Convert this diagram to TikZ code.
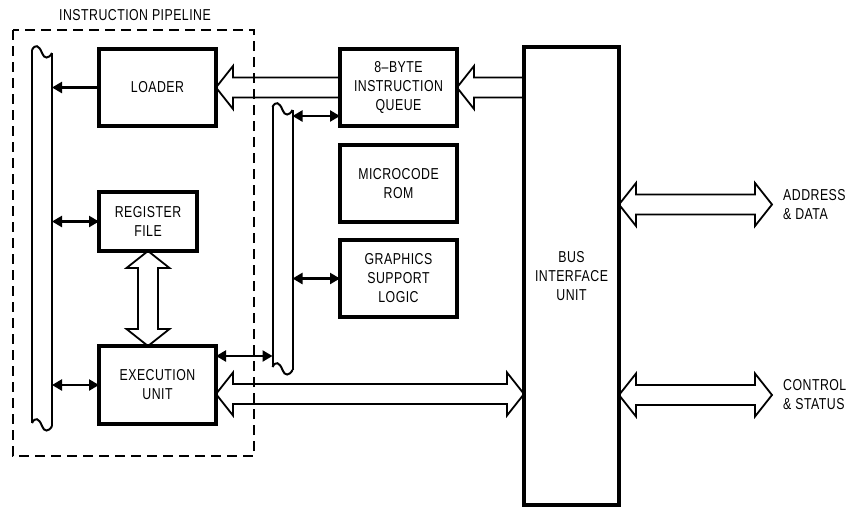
\documentclass[tikz,border=0pt]{standalone}
\usepackage{fontspec}
\setmainfont{Liberation Sans}[FakeStretch=0.78, LetterSpace=3]
\usetikzlibrary{arrows.meta,positioning,calc}

\tikzset{
    buswave/.pic={\draw[line width=2pt] (0,0) .. controls (3,-6) and (7,-5) .. (10,3) .. controls (12,9) and (17,9) .. (20,3);}
}

\begin{document}
\begin{tikzpicture}[
        x=1pt, y=-1pt,
        font=\fontsize{15.8}{19}\selectfont,
        unit/.style={rectangle, draw=black, line width=3.2pt, align=center, inner sep=0pt,
                     outer sep=0pt, minimum width=117pt, minimum height=77pt},
        bus/.style={rectangle, inner sep=0pt, outer sep=0pt, minimum width=20pt},
        busline/.style={line width=2pt},
        pipebox/.style={dash pattern=on 10pt off 6pt, line width=2.6pt},
        arrow/.style={-{Triangle[length=10pt,width=11pt]}, line width=2.3pt},
        biarrow/.style={{Triangle[length=10pt,width=11pt]}-{Triangle[length=10pt,width=11pt]}, line width=2.3pt},
        fat/.style={line width=1.8pt, to path={
            let \p1=(\tikztostart), \p2=(\tikztotarget), \n1={atan2(\y2-\y1,\x2-\x1)},
                \n2={\n1+90}, \n3={\n1-90}, \n4={\n1+180}
            in ($(\p1)+(\n2:10pt)$) -- ($(\p2)+(\n4:17pt)+(\n2:10pt)$) -- ($(\p2)+(\n4:17pt)+(\n2:21.5pt)$)
               -- (\p2) -- ($(\p2)+(\n4:17pt)+(\n3:21.5pt)$) -- ($(\p2)+(\n4:17pt)+(\n3:10pt)$)
               -- ($(\p1)+(\n3:10pt)$)}},
        fatboth/.style={line width=1.8pt, to path={
            let \p1=(\tikztostart), \p2=(\tikztotarget), \n1={atan2(\y2-\y1,\x2-\x1)},
                \n2={\n1+90}, \n3={\n1-90}, \n4={\n1+180}
            in ($(\p1)+(\n1:17pt)+(\n2:10pt)$) -- ($(\p2)+(\n4:17pt)+(\n2:10pt)$) -- ($(\p2)+(\n4:17pt)+(\n2:21.5pt)$)
               -- (\p2) -- ($(\p2)+(\n4:17pt)+(\n3:21.5pt)$) -- ($(\p2)+(\n4:17pt)+(\n3:10pt)$)
               -- ($(\p1)+(\n1:17pt)+(\n3:10pt)$) -- ($(\p1)+(\n1:17pt)+(\n3:21.5pt)$)
               -- (\p1) -- ($(\p1)+(\n1:17pt)+(\n2:21.5pt)$) -- cycle}}
    ]
        \useasboundingbox (0,0) rectangle (853,506);

        % instruction pipeline
        \draw[pipebox] (13,30) rectangle (254,456);
        \node (pipetitle) at (135,15) {INSTRUCTION PIPELINE};

        \node[unit] (loader) at (157.5,87.5) {LOADER};
        \node[unit, minimum width=98pt, minimum height=59pt] (reg) at (148,221.5) {REGISTER\\FILE};
        \node[unit, minimum height=78pt] (exec) at (157.5,385) {EXECUTION\\UNIT};

        \node[unit] (queue) at (398.5,87.5) {8--BYTE\\INSTRUCTION\\QUEUE};
        \node[unit, below=19pt of queue] (rom) {MICROCODE\\ROM};
        \node[unit, below=18pt of rom] (gfx) {GRAPHICS\\SUPPORT\\LOGIC};

        \node[unit, minimum width=95pt, minimum height=458pt] (biu) at (571.5,276) {BUS\\INTERFACE\\UNIT};

        \node[anchor=west, align=left, inner sep=0pt] (addrtext) at (783,204.5) {ADDRESS\\\& DATA};
        \node[anchor=west, align=left, inner sep=0pt] (ctrltext) at (783,395) {CONTROL\\\& STATUS};

        % internal buses
        \node[bus, minimum height=373pt] (bus1) at (42,236.5) {};
        \node[bus, minimum height=260pt] (bus2) at (282.5,237) {};
        \draw[busline] (bus1.north west) -- (bus1.south west);
        \draw[busline] ([yshift=-3pt]bus1.north east) -- ([yshift=-3pt]bus1.south east);
        \pic at (bus1.north west) {buswave};
        \pic at (bus1.south west) {buswave};
        \draw[busline] (bus2.north west) -- (bus2.south west);
        \draw[busline] ([yshift=-3pt]bus2.north east) -- ([yshift=-3pt]bus2.south east);
        \pic at (bus2.north west) {buswave};
        \pic at (bus2.south west) {buswave};

        \coordinate (ebus) at ([yshift=-10pt]exec.north east);
        \coordinate (qbus) at ([yshift=10pt]queue.south west);
        \coordinate (ebiu) at ([yshift=-9pt]exec.east);
        \coordinate (addr) at ([xshift=-11pt]addrtext.west);
        \coordinate (ctrl) at ([xshift=-11pt]ctrltext.west);

        \draw[arrow] (loader.west) -- (bus1.east |- loader.west);
        \draw[biarrow] (bus1.east |- reg.west) -- (reg.west);
        \draw[biarrow] (bus1.east |- exec.west) -- (exec.west);
        \draw[biarrow] (ebus) -- (ebus -| bus2.west);
        \draw[biarrow] (qbus -| bus2.east) -- (qbus);
        \draw[biarrow] (bus2.east |- gfx.west) -- (gfx.west);

        \draw[fat] (queue.west) to (loader.east);
        \draw[fat] (biu.west |- queue.east) to (queue.east);
        \draw[fatboth] (reg.south) to (reg.south |- exec.north);
        \draw[fatboth] (ebiu) to (ebiu -| biu.west);
        \draw[fatboth] (addr -| biu.east) to (addr);
        \draw[fatboth] (ctrl -| biu.east) to (ctrl);
    \end{tikzpicture}
\end{document}
